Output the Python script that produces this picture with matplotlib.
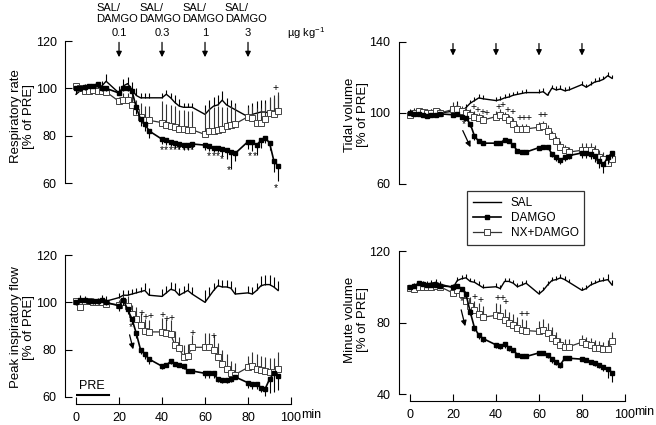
import matplotlib
matplotlib.use("Agg")
import matplotlib.pyplot as plt
import numpy as np
from matplotlib.lines import Line2D

plt.rcParams["font.family"] = ["Liberation Sans", "DejaVu Sans"]
plt.rcParams["mathtext.fontset"] = "custom"
plt.rcParams["mathtext.rm"] = "Liberation Sans"
plt.rcParams["mathtext.it"] = "Liberation Sans:italic"

# sampling times (min)
minutes = [0, 2, 4, 6, 8, 10, 12, 14,
           20, 22, 24, 26, 28, 30, 32, 34,
           40, 42, 44, 46, 48, 50, 52, 54,
           60, 62, 64, 66, 68, 70, 72, 74,
           80, 82, 84, 86, 88, 90, 92, 94]
dose_times = [20, 40, 60, 80]
dose_labels = ["0.1", "0.3", "1", "3"]

# respiratory rate
rr_sal = [97.5, 99, 100, 100, 100, 100, 101, 103,
          98, 101, 102, 99.5, 97, 96, 96, 96,
          96, 97.5, 96, 94, 92.5, 92, 92, 92,
          89, 91, 92.5, 93, 95, 93, 92, 91,
          88, 89, 89.5, 90, 90, 89.5, 89, 89]
rr_sal_err = [2, 2, 2, 2, 2, 2, 2, 3,
              3, 3, 3, 3, 3, 2, 2, 2,
              2, 2, 2, 3, 3, 2, 2, 2,
              4, 4, 4, 4, 4, 3, 3, 3,
              5, 5, 5, 5, 5, 6, 7, 8]
rr_damgo = [100, 100, 100.5, 101, 101, 102, 100, 100,
            98, 100, 100, 99, 92, 87, 85, 82,
            78.5, 78, 77.5, 77, 76.5, 76, 76, 76.5,
            76, 75.5, 75, 75, 74.5, 74, 73, 72.5,
            77.5, 77.5, 76, 78, 79, 77, 69.5, 67]
rr_damgo_err = [1, 1, 1, 1, 1, 1, 1, 1,
                1, 1, 1, 2, 3, 3, 3, 3,
                2, 2, 2, 2, 2, 2, 2, 2,
                2, 2, 2, 2, 3, 4, 7, 3,
                3, 4, 4, 3, 2, 3, 5, 6]
rr_nx = [101, 100, 99, 99, 99.5, 99, 99, 98.5,
         94.5, 95, 95, 93, 90, 88, 86.5, 86.5,
         85.5, 84.5, 84, 83.5, 83, 83, 82.5, 82.5,
         80.5, 82, 82, 82.5, 83, 84, 84.5, 85,
         88, 87.5, 85.5, 85.5, 87, 89.5, 89, 90.5]
rr_nx_err = [1, 1, 1, 1, 1, 1, 1, 1,
             2, 3, 3, 4, 5, 6, 6, 6,
             9, 9, 9, 9, 8, 8, 8, 8,
             10, 10, 10, 10, 9, 8, 8, 8,
             4, 5, 6, 6, 7, 7, 8, 8]

# tidal volume
tv_sal = [100.5, 101, 100.5, 100, 100, 100, 100, 100,
          101, 104, 101, 103, 105.5, 107, 108.5, 108,
          107, 107.5, 108.5, 109, 110, 110.5, 111, 111.5,
          111.5, 112, 110, 114, 113, 113.5, 112.5, 113,
          116, 114.5, 116, 117.5, 118, 119, 121, 119.5]
tv_sal_err = [2, 2, 2, 2, 2, 2, 2, 2,
              2, 3, 2, 2, 2, 2, 2, 2,
              2, 2, 2, 2, 2, 2, 2, 2,
              2, 2, 2, 2, 2, 2, 2, 2,
              2, 2, 2, 2, 2, 2, 2, 2]
tv_damgo = [100, 99.5, 99.5, 99, 98.5, 99, 99, 99.5,
            99, 99.5, 98, 97, 94, 87, 84, 83,
            83, 83, 85, 84, 82, 78.5, 78, 78,
            80.5, 81, 81, 77, 75, 73.5, 75, 76,
            77.5, 77.5, 77, 75.5, 73, 71, 75, 77.5]
tv_damgo_err = [1, 1, 1, 1, 1, 1, 1, 1,
                1, 1, 1, 1, 2, 2, 1, 1,
                1, 1, 1, 1, 1, 1, 1, 1,
                1, 1, 1, 2, 2, 2, 2, 2,
                3, 3, 3, 3, 4, 5, 4, 3]
tv_nx = [99, 100, 101, 100.5, 100, 100, 101, 100,
         102, 102, 101, 100, 99, 98, 97, 96,
         98, 99, 97.5, 96, 94, 91, 91, 91,
         92, 92.5, 90, 87, 84, 81, 79, 78,
         79, 79, 79, 78, 75, 74, 72, 74]
tv_nx_err = [2, 2, 2, 2, 2, 2, 2, 2,
             4, 3, 3, 3, 3, 3, 3, 3,
             3, 3, 3, 3, 3, 3, 3, 3,
             3, 3, 3, 3, 3, 3, 3, 3,
             4, 4, 4, 4, 4, 4, 4, 3]

# peak inspiratory flow
pif_sal = [100, 101, 100.5, 100, 100, 100, 101, 100.5,
           102, 103, 103, 103.5, 104, 104.5, 105, 103,
           102.5, 104, 105.5, 105, 103, 104, 105, 103.5,
           100, 102.5, 105, 107, 106.5, 106.5, 106, 103.5,
           104, 103.5, 105, 107, 107.5, 107.5, 106.5, 105]
pif_sal_err = [2, 2, 2, 2, 2, 2, 2, 2,
               2, 2, 2, 2, 2, 2, 3, 3,
               3, 3, 3, 3, 3, 3, 3, 3,
               5, 4, 3, 3, 3, 3, 3, 3,
               3, 3, 3, 4, 4, 4, 4, 4]
pif_damgo = [100, 101, 101, 100.5, 100.5, 100.5, 101, 100,
             98.5, 101, 97, 93, 87, 80, 78, 76,
             73, 73.5, 75, 74, 73.5, 73, 71, 71,
             70, 70, 70, 67.5, 67, 67, 67.5, 68.5,
             66, 65.5, 65.5, 64, 63.5, 67.5, 70, 69]
pif_damgo_err = [1, 1, 1, 1, 1, 1, 1, 1,
                 2, 2, 2, 2, 2, 2, 2, 2,
                 1, 1, 1, 1, 1, 1, 1, 1,
                 2, 2, 2, 1, 1, 1, 1, 1,
                 2, 2, 2, 2, 3, 6, 8, 6]
pif_nx = [100.5, 98, 100.5, 100.5, 100, 100, 100, 99.5,
          99, 100, 98.5, 95, 93, 90.5, 88, 87.5,
          87.5, 87, 86.5, 82, 80.5, 77, 77.5, 81,
          81, 81, 80, 77, 74, 72, 70, 69.5,
          72.5, 73, 72, 71.5, 71, 70.5, 70.5, 72]
pif_nx_err = [1, 1, 1, 1, 1, 1, 1, 1,
              2, 3, 4, 4, 5, 5, 5, 5,
              6, 6, 6, 6, 5, 5, 5, 5,
              6, 6, 6, 6, 6, 6, 5, 5,
              5, 6, 6, 6, 6, 6, 6, 7]

# minute volume
mv_sal = [99, 100, 100, 101, 101.5, 102, 102.5, 101.5,
          99.5, 103.5, 104.5, 105, 103, 102.5, 101, 99.5,
          100, 99, 103, 103, 102, 100, 101, 102,
          96, 98, 101, 103.5, 104, 105, 104, 102.5,
          98, 99, 101, 102, 103, 103.5, 104, 101]
mv_sal_err = [2, 2, 2, 2, 2, 2, 2, 2,
              2, 2, 2, 2, 2, 2, 2, 2,
              2, 2, 2, 2, 2, 2, 2, 2,
              2, 2, 2, 2, 2, 2, 2, 2,
              2, 2, 2, 2, 2, 2, 3, 3]
mv_damgo = [100, 100.5, 102, 101.5, 101, 101, 101, 100.5,
            100, 100.5, 99, 96, 86, 77, 73, 71,
            67.5, 67, 68, 66, 64.5, 62, 61, 61,
            63, 63, 62, 59.5, 58, 56.5, 60, 60,
            59.5, 59, 58, 57.5, 56.5, 55, 54, 52]
mv_damgo_err = [1, 1, 1, 1, 1, 1, 1, 1,
                1, 1, 1, 1, 2, 2, 2, 2,
                2, 2, 2, 2, 1, 1, 1, 1,
                1, 1, 2, 2, 2, 2, 1, 1,
                1, 1, 1, 2, 2, 2, 5, 5]
mv_nx = [99.5, 99, 100, 100, 100, 100, 100.5, 100,
         96.5, 98, 96, 92, 89.5, 87, 85, 83,
         84, 83.5, 81.5, 80, 78.5, 77, 76, 75.5,
         75, 76, 74, 71.5, 69.5, 67.5, 66.5, 66.5,
         69, 68, 67.5, 66, 65.5, 65, 65, 69.5]
mv_nx_err = [1, 1, 1, 1, 1, 1, 1, 1,
             2, 3, 3, 4, 5, 5, 6, 6,
             7, 7, 6, 6, 6, 6, 6, 6,
             6, 6, 6, 6, 5, 4, 4, 4,
             4, 4, 4, 4, 4, 4, 5, 5]

# significance marks (min, value, symbol)
rr_marks = [(40, 74, "*"), (42, 74, "*"), (44, 74, "*"), (46, 74, "*"), (48, 74, "*"),
            (50, 74, "*"), (52, 74, "*"), (54, 74, "*"), (62, 71.3, "*"), (64, 71.3, "*"),
            (66, 71.3, "*"), (68, 70, "*"), (71, 65.6, "*"), (81, 71.3, "*"), (83, 71.3, "*"),
            (93, 58, "*"), (93, 100, "+")]
tv_marks = [(25, 93.5, "*"), (29.4, 103.5, "+"), (31.5, 101.6, "+"), (33.6, 100.7, "+"),
            (35.6, 99.8, "+"), (41, 103.5, "+"), (43, 104.5, "+"), (45.2, 101.7, "+"),
            (47.5, 100.7, "+"), (50.8, 97.2, "+"), (53, 97.2, "+"), (55.2, 97.2, "+"),
            (60.5, 98.7, "+"), (62.7, 98.7, "+")]
pif_marks = [(25.3, 89.7, "*"), (30.4, 95.6, "+"), (32.4, 93.9, "+"), (34.5, 94.2, "+"),
             (40.1, 94.6, "+"), (42.3, 93, "+"), (44.5, 93.5, "+"), (54.1, 87.2, "+"),
             (64, 85.9, "+")]
mv_marks = [(24, 92, "*"), (30.2, 94.4, "+"), (32.6, 92.6, "+"), (40.9, 93.9, "+"),
            (43.1, 93.9, "+"), (44.6, 91.2, "+"), (52, 84.6, "+"), (54.3, 84.6, "+")]


def draw_panel(ax, sal, sal_err, damgo, damgo_err, nx, nx_err):
    t = np.array(minutes)
    sal, sal_err = np.array(sal), np.array(sal_err)
    damgo, damgo_err = np.array(damgo), np.array(damgo_err)
    nx, nx_err = np.array(nx), np.array(nx_err)
    ax.vlines(t, sal, sal + sal_err, color="k", lw=0.8, clip_on=False)
    ax.plot(t, sal, color="k", lw=1.0, clip_on=False)
    ax.vlines(t, nx, nx + nx_err, color="#333333", lw=0.8, clip_on=False)
    ax.plot(t, nx, "-s", color="#333333", mfc="white", mec="#444444", ms=4, mew=0.7,
            lw=0.9, clip_on=False)
    ax.vlines(t, damgo - damgo_err, damgo, color="k", lw=0.8, clip_on=False)
    ax.plot(t, damgo, "-s", color="k", ms=3.5, lw=1.2, clip_on=False)


def style(ax, ylim, yticks, ylabel, label_y, show_x):
    ax.set_xlim(0, 100)
    ax.set_ylim(*ylim)
    ax.spines[["top", "right"]].set_visible(False)
    ax.spines["left"].set_position(("outward", 8))
    ax.spines["left"].set_bounds(*ylim)
    ax.set_yticks(yticks)
    if show_x:
        ax.spines["bottom"].set_position(("outward", 5))
        ax.spines["bottom"].set_bounds(0, 100)
        ax.set_xticks([0, 20, 40, 60, 80, 100])
        ax.text(1.045, -0.127, "min", transform=ax.transAxes, ha="left", va="center",
                fontsize=9)
    else:
        ax.spines["bottom"].set_visible(False)
        ax.set_xticks([])
    ax.tick_params(direction="in", length=5, width=0.8, labelsize=9, pad=6)
    ax.text(-0.25, label_y, ylabel, transform=ax.transAxes, rotation=90, ha="center",
            va="center", fontsize=9.5, linespacing=1.1)


def add_marks(ax, marks):
    for x, y, s in marks:
        ax.text(x, y, s, ha="center", va="center", fontsize=7.5)


fig = plt.figure(figsize=(6.56, 4.25), dpi=100)
ax_rr = fig.add_axes([0.1159, 0.5694, 0.3277, 0.3341])
ax_tv = fig.add_axes([0.6250, 0.5671, 0.3277, 0.3341])
ax_pif = fig.add_axes([0.1159, 0.0659, 0.3277, 0.3341])
ax_mv = fig.add_axes([0.6250, 0.0729, 0.3277, 0.3365])

draw_panel(ax_rr, rr_sal, rr_sal_err, rr_damgo, rr_damgo_err, rr_nx, rr_nx_err)
draw_panel(ax_tv, tv_sal, tv_sal_err, tv_damgo, tv_damgo_err, tv_nx, tv_nx_err)
draw_panel(ax_pif, pif_sal, pif_sal_err, pif_damgo, pif_damgo_err, pif_nx, pif_nx_err)
draw_panel(ax_mv, mv_sal, mv_sal_err, mv_damgo, mv_damgo_err, mv_nx, mv_nx_err)

style(ax_rr, (60, 120), [60, 80, 100, 120], "Respiratory rate\n[% of PRE]", 0.47, False)
style(ax_tv, (60, 140), [60, 100, 140], "Tidal volume\n[% of PRE]", 0.486, False)
style(ax_pif, (60, 120), [60, 80, 100, 120], "Peak inspiratory flow\n[% of PRE]", 0.49, True)
style(ax_mv, (40, 120), [40, 80, 120], "Minute volume\n[% of PRE]", 0.52, True)

add_marks(ax_rr, rr_marks)
add_marks(ax_tv, tv_marks)
add_marks(ax_pif, pif_marks)
add_marks(ax_mv, mv_marks)

arrow_kw = dict(arrowstyle="-|>", color="k", lw=0.9, mutation_scale=8)
for t, lab in zip(dose_times, dose_labels):
    ax_rr.annotate("", xy=(t, 112), xytext=(t, 120.6), arrowprops=arrow_kw,
                   annotation_clip=False)
    ax_rr.text(t - 1, 131.5, "SAL/\nDAMGO", ha="center", va="center",
               multialignment="left", fontsize=8, linespacing=1.15)
    ax_rr.text(t, 123.4, lab, ha="center", va="center", fontsize=8)
    ax_tv.annotate("", xy=(t, 130.8), xytext=(t, 140.7), arrowprops=arrow_kw,
                   annotation_clip=False)
ax_rr.text(98, 123.4, "µg kg$^{-1}$", ha="left", va="center", fontsize=8)

# slanted arrows marking DAMGO onset
ax_tv.annotate("", xy=(28.7, 79.3), xytext=(24, 91.5), arrowprops=arrow_kw)
ax_pif.annotate("", xy=(26.9, 79), xytext=(24.6, 87.4), arrowprops=arrow_kw)
ax_mv.annotate("", xy=(26, 76.4), xytext=(23.5, 88.6), arrowprops=arrow_kw)

# baseline period
ax_pif.plot([0, 15.4], [61, 61], color="k", lw=1.5)
ax_pif.text(7.4, 64.7, "PRE", ha="center", va="center", fontsize=9)

handles = [Line2D([], [], color="k", lw=1.0),
           Line2D([], [], color="k", lw=1.2, marker="s", ms=3.5),
           Line2D([], [], color="#333333", lw=0.9, marker="s", ms=4, mfc="white",
                  mec="#444444", mew=0.7)]
leg = fig.legend(handles, ["SAL", "DAMGO", "NX+DAMGO"], loc="upper left",
                 bbox_to_anchor=(467 / 656, 1 - 191 / 425), frameon=True, fancybox=False,
                 fontsize=8.5, handlelength=2.4, handletextpad=0.8, labelspacing=0.25,
                 borderpad=0.5, borderaxespad=0)
leg.get_frame().set_edgecolor("k")
leg.get_frame().set_linewidth(0.9)

fig.savefig("out.png", dpi=100)
